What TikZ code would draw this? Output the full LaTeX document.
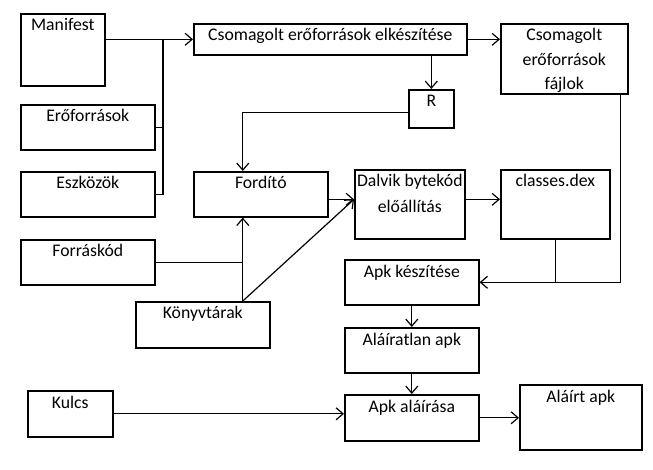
\documentclass[tikz,border=0pt]{standalone}
\usepackage{fontspec}
\setmainfont{Carlito}
\usetikzlibrary{arrows.meta}
\usetikzlibrary{calc}

\tikzset{
  box/.style 2 args={draw, line width=1.6pt, anchor=north west, inner sep=0pt,
    minimum width=#1, minimum height=#2},
  boxtext/.style={anchor=base, yshift=-18pt, align=center, inner sep=0pt},
  arr/.style={-{Straight Barb[length=7pt, width=12pt]}}
}

\begin{document}
\begin{tikzpicture}[x=1pt, y=-1pt, line width=1.2pt, font=\fontsize{17.7}{24}\selectfont]
  \useasboundingbox (0,0) rectangle (653,470);

  % inputs on the left
  \node[box={84pt}{72pt}, label={[boxtext]north:Manifest}] (man) at (20,13) {};
  \node[box={134pt}{45pt}, label={[boxtext]north:Erőforrások}] (eroforr) at (20,104) {};
  \node[box={134pt}{45pt}, label={[boxtext]north:Eszközök}] (eszk) at (20,171) {};
  \node[box={134pt}{45pt}, label={[boxtext]north:Forráskód}] (forras) at (20,239) {};
  \node[box={134pt}{46pt}, label={[boxtext]north:Könyvtárak}] (konyv) at (135,301) {};
  \node[box={85pt}{46pt}, label={[boxtext]north:Kulcs}] (kulcs) at (27,390) {};

  % build steps
  \node[box={273pt}{31pt}, label={[boxtext]north:Csomagolt erőforrások elkészítése}] (csomag) at (193,23) {};
  \node[box={45pt}{38pt}, label={[boxtext]north:R}] (rfile) at (408,89) {};
  \node[box={127pt}{70pt}, label={[boxtext, yshift=-49pt]north:Csomagolt\\[0.5pt]erőforrások\\[0.5pt]fájlok}] (csfajl) at (500,23) {};
  \node[box={134pt}{45pt}, label={[boxtext]north:Fordító}] (fordito) at (193,171) {};
  \node[box={110pt}{69pt}, label={[boxtext, yshift=-26pt]north:Dalvik bytekód\\[2pt]előállítás}] (dalvik) at (354,169) {};
  \node[box={109pt}{69pt}, label={[boxtext]north:classes.dex}] (dex) at (500,169) {};
  \node[box={134pt}{45pt}, label={[boxtext]north:Apk készítése}] (apkk) at (344,259) {};
  \node[box={134pt}{45pt}, label={[boxtext]north:Aláíratlan apk}] (alairatlan) at (344,327) {};
  \node[box={134pt}{46pt}, label={[boxtext]north:Apk aláírása}] (alairas) at (344,394) {};
  \node[box={122pt}{65pt}, label={[boxtext]north:Aláírt apk}] (alairt) at (519,384) {};

  \coordinate (bus) at (163,39);
  \coordinate (kn) at ([xshift=40pt]konyv.north);
  \coordinate (din) at ([yshift=5pt]dalvik.west);

  \draw[arr] (man.east |- csomag.west) -- (csomag.west);
  \draw (eroforr.east) -- (eroforr.east -| bus);
  \draw (eszk.east) -| (bus);
  \draw[arr] (csomag.east) -- (csomag.east -| csfajl.west);
  \draw[arr] (csomag.south -| rfile.north) -- (rfile.north);
  \draw[arr] ([yshift=-4pt]rfile.west) -| (kn |- fordito.north);

  \draw[arr] (kn) -- (kn |- fordito.south);
  \draw (forras.east) -- (forras.east -| kn);
  \draw[arr] (fordito.east |- din) -- (din);
  \draw[arr] (kn) -- (din);
  \draw[arr] (dalvik.east |- din) -- (din -| dex.west);

  \draw[arr] ([xshift=-8pt]csfajl.south east) |- (apkk.east);
  \draw (dex.south) -- (dex.south |- apkk.east);
  \draw[arr] (apkk.south) -- (alairatlan.north);
  \draw[arr] (alairatlan.south) -- (alairas.north);
  \draw[arr] (kulcs.east) -- (kulcs.east -| alairas.west);
  \draw[arr] (alairas.east) -- (alairas.east -| alairt.west);
\end{tikzpicture}
\end{document}
